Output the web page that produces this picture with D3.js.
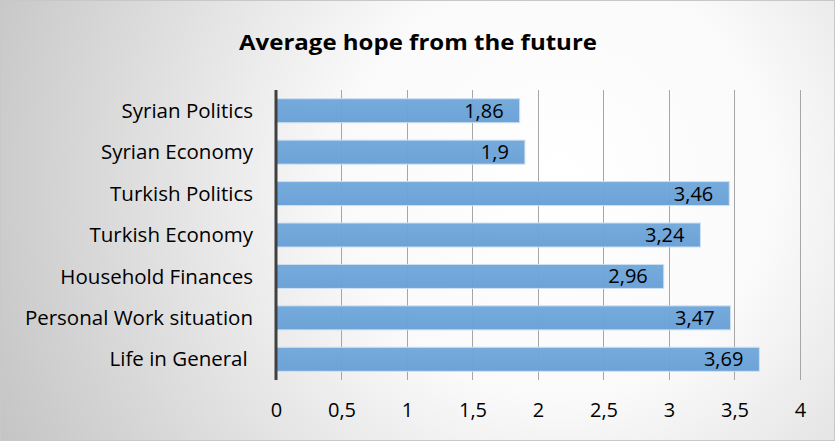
<!DOCTYPE html>
<html><head><meta charset="utf-8">
<script src="https://cdn.jsdelivr.net/npm/d3@7"></script>
<style>html,body{margin:0;padding:0;background:#fff}svg{display:block}text{white-space:pre}</style>
</head><body>
<script>
const categories = ["Syrian Politics","Syrian Economy","Turkish Politics","Turkish Economy","Household Finances","Personal Work situation","Life in General "];
const values = [1.86, 1.9, 3.46, 3.24, 2.96, 3.47, 3.69];
const tickValues = [0,0.5,1,1.5,2,2.5,3,3.5,4];
const title = "Average hope from the future";

const W = 835, H = 441;
const font = "'Open Sans', sans-serif";
const svg = d3.select("body").append("svg").attr("width", W).attr("height", H);
const defs = svg.append("defs");
const rg = defs.append("radialGradient").attr("id","bg").attr("gradientUnits","userSpaceOnUse")
  .attr("cx", 560).attr("cy", 180).attr("r", 620);
rg.append("stop").attr("offset","0").attr("stop-color","#ffffff");
rg.append("stop").attr("offset","0.35").attr("stop-color","#fafafa");
rg.append("stop").attr("offset","1").attr("stop-color","#c4c4c4");
const bg2 = defs.append("linearGradient").attr("id","bar").attr("x1",0).attr("x2",0).attr("y1",0).attr("y2",1);
bg2.append("stop").attr("offset","0").attr("stop-color","#72a8db");
bg2.append("stop").attr("offset","1").attr("stop-color","#68a0d6");

svg.append("rect").attr("x",0.5).attr("y",0.5).attr("width",W-1).attr("height",H-1)
  .attr("fill","url(#bg)").attr("stroke","#c8c8c8");

svg.append("text").attr("x", 418).attr("y", 50).attr("text-anchor","middle")
  .attr("font-family", font).attr("font-weight","bold").attr("font-size", 22).attr("fill","#000")
  .attr("textLength", 358).attr("lengthAdjust","spacingAndGlyphs").text(title);

const x = d3.scaleLinear().domain([0,4]).range([276, 800]);
const y = d3.scaleBand().domain(categories).range([90, 380]).paddingInner(0.42).paddingOuter(0.21);

svg.append("g").selectAll("line").data(tickValues.slice(1)).join("line")
  .attr("x1", d=>x(d)).attr("x2", d=>x(d)).attr("y1", 90).attr("y2", 380)
  .attr("stroke","#a6a6a6").attr("stroke-width",1).attr("shape-rendering","crispEdges");

svg.append("g").selectAll("rect").data(values).join("rect")
  .attr("x", x(0)).attr("y", (d,i)=>y(categories[i]))
  .attr("width", d=>x(d)-x(0)).attr("height", y.bandwidth())
  .attr("fill","url(#bar)").attr("fill-opacity",0.97).attr("stroke","#cfe0f2").attr("stroke-width",1);

const fmt = d => String(d).replace(".", ",");
svg.append("g").selectAll("text").data(values).join("text")
  .attr("x", d=>x(d)-16).attr("y", (d,i)=>y(categories[i])+y.bandwidth()/2+7)
  .attr("text-anchor","end").attr("font-family",font).attr("font-size",20).attr("fill","#000")
  .text(fmt);

const yAxis = d3.axisLeft(y).tickSize(0).tickPadding(23);
const ga = svg.append("g").attr("transform",`translate(${x(0)},0)`).call(yAxis);
ga.select(".domain").remove();
ga.selectAll("text").attr("font-family",font).attr("font-size",20.5).attr("fill","#000").attr("dy","0.35em");

const xAxis = d3.axisBottom(x).tickValues(tickValues).tickSize(0).tickPadding(15).tickFormat(fmt);
const gx = svg.append("g").attr("transform","translate(0,388)").call(xAxis);
gx.select(".domain").remove();
gx.selectAll("text").attr("font-family",font).attr("font-size",20).attr("fill","#000");

svg.append("line").attr("x1", x(0)).attr("x2", x(0)).attr("y1", 90).attr("y2", 380)
  .attr("stroke","#404040").attr("stroke-width",3);
</script>
</body></html>
